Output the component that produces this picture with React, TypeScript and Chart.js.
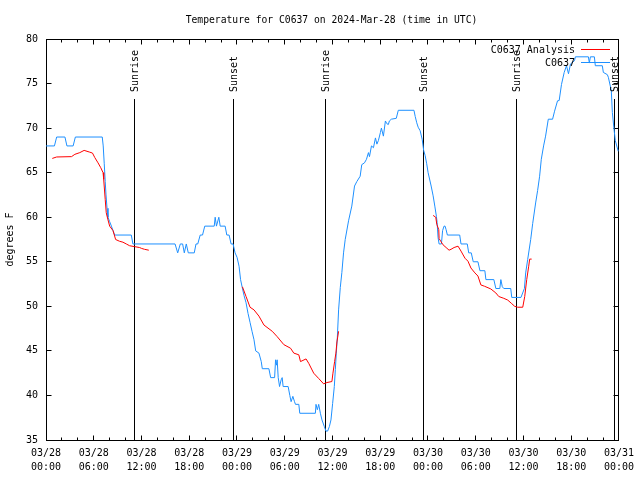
import React, { useEffect, useRef } from "react";
import { Chart, registerables } from "chart.js";

Chart.register(...registerables);

// ---- data (hours since 03/28 00:00 UTC, degrees F) ----
const obsHours = [
  0.0, 1.06, 1.34, 2.38, 2.63, 3.41, 3.69, 7.07, 7.19, 7.32, 7.44, 7.54, 7.67, 7.79, 8.0, 8.22, 8.42, 8.63,
  10.72, 10.92, 16.22, 16.55, 16.88, 17.17, 17.38, 17.63, 17.88, 18.63, 18.85, 19.07, 19.38, 19.67, 19.95,
  21.14, 21.26, 21.42, 21.72, 21.89, 22.51, 22.72, 23.01, 23.26, 23.51, 23.76, 24.01, 24.26, 24.45, 24.64,
  24.89, 25.14, 25.39, 25.64, 25.89, 26.14, 26.35, 26.76, 27.05, 27.18, 28.01, 28.23, 28.73, 28.85, 28.98,
  29.05, 29.18, 29.35, 29.55, 29.68, 29.8, 30.43, 30.64, 30.8, 31.02, 31.23, 31.35, 31.77, 31.89, 33.85,
  33.93, 34.1, 34.27, 34.48, 34.68, 34.98, 35.18, 35.39, 35.61, 35.81, 36.02, 36.23, 36.36, 36.48, 36.61,
  36.77, 36.98, 37.18, 37.39, 37.6, 38.02, 38.43, 38.77, 39.06, 39.48, 39.68, 40.02, 40.27, 40.52, 40.65,
  40.9, 41.15, 41.4, 41.58, 41.77, 42.02, 42.15, 42.4, 42.65, 42.83, 43.02, 43.15, 43.4, 44.02, 44.27,
  46.24, 46.4, 46.59, 46.77, 47.02, 47.27, 47.46, 47.65, 47.84, 48.02, 48.4, 48.65, 48.86, 49.06, 49.15,
  49.27, 49.4, 49.69, 49.84, 50.02, 50.15, 50.28, 50.44, 51.99, 52.15, 52.94, 53.12, 53.44, 53.69, 54.28,
  54.53, 55.15, 55.28, 56.28, 56.53, 57.03, 57.16, 57.34, 57.53, 58.4, 58.53, 59.69, 59.9, 60.12, 60.28,
  60.53, 60.91, 61.16, 61.53, 61.78, 62.03, 62.24, 62.53, 62.78, 63.12, 63.66, 63.91, 64.28, 64.49, 64.78,
  65.12, 65.41, 65.66, 65.91, 66.41, 66.53, 68.16, 68.28, 68.41, 68.91, 69.03, 69.91, 70.04, 70.54, 70.67,
  71.04, 71.17, 71.38, 71.54, 71.91,
];
const obsTemps = [
  68, 68, 69, 69, 68, 68, 69, 69, 68, 66, 64, 62.5, 61, 60, 59.5, 59, 58.5, 58,
  58, 57, 57, 56, 57, 57, 56, 57, 56, 56, 57, 57, 58, 58, 59,
  59, 60, 59, 60, 59, 59, 58, 58, 57, 57, 56, 55.5, 54.5, 53, 52.2,
  51.2, 50.4, 49.2, 48.2, 47.2, 46.25, 45, 44.75, 43.8, 43, 43, 42, 42, 44, 43.4,
  44, 42, 41, 41.75, 42, 41, 41, 40, 39.3, 39.9, 39.3, 39, 39, 38, 38,
  39, 38.4, 39, 38, 37.25, 36.5, 36, 36, 36.5, 37.25, 39.1, 41, 42.9, 44.75, 46.5,
  49.6, 52.1, 53.8, 56, 57.5, 59.6, 61.25, 63.5, 64, 64.6, 65.9, 66.1, 66.5, 67.25, 66.8,
  68, 67.8, 68.9, 68.2, 68.6, 69.5, 70, 69.1, 70.8, 70.5, 70.4, 70.8, 71, 71.1, 72,
  72, 71.3, 70.6, 70.1, 69.7, 68.75, 67.5, 66.9, 66, 65, 63.5, 62.4, 61.25, 60.1, 59.4,
  57.7, 57, 57, 58.5, 59, 59, 58.6, 58, 58, 57, 57, 56, 56, 55, 55,
  54, 54, 53, 53, 52, 52, 53, 52.2, 52, 52, 51, 51, 51.5, 52, 53.75,
  55.25, 57.5, 59.3, 61.6, 63, 64.6, 66.5, 68, 69.1, 71, 71, 71.9, 73.06, 73.1, 74.9,
  76.25, 77, 76.1, 77.2, 77.56, 78, 78, 77.3, 78, 78, 77, 77, 76.25, 76, 75.7,
  74.2, 71.75, 69.9, 68.6, 67.4,
];

const anaHours1 = [0.79, 1.34, 3.21, 3.63, 4.25, 4.79, 5.5, 5.84, 6.13, 6.54, 6.88, 7.17, 7.25, 7.44, 7.57, 7.79, 8.0, 8.42, 8.75, 9.25, 9.67, 10.09, 10.51, 11.13, 11.76, 12.01, 12.38, 12.92];
const anaTemps1 = [66.6, 66.76, 66.8, 67.06, 67.25, 67.5, 67.3, 67.2, 66.7, 66.1, 65.56, 65.0, 64.25, 62, 60.5, 59.7, 59, 58.5, 57.5, 57.3, 57.2, 57, 56.8, 56.7, 56.6, 56.5, 56.4, 56.3];
const anaHours2 = [24.68, 25.14, 25.64, 26.14, 26.76, 27.39, 28.43, 29.05, 29.89, 30.73, 31.14, 31.77, 31.98, 32.68, 33.02, 33.64, 34.27, 34.89, 35.31, 35.93, 36.06, 36.27, 36.43, 36.56, 36.77];
const anaTemps2 = [52.2, 51.1, 49.9, 49.6, 48.9, 47.9, 47.2, 46.6, 45.7, 45.3, 44.75, 44.56, 43.8, 44.1, 43.6, 42.5, 41.9, 41.3, 41.45, 41.56, 42.5, 43.8, 44.75, 46, 47.2];
const anaHours3 = [48.65, 48.98, 49.11, 49.36, 49.4, 49.61, 49.9, 50.28, 50.65, 50.9, 51.28, 51.78, 52.15, 52.65, 53.03, 53.4, 53.9, 54.28, 54.65, 55.12, 55.9, 56.53, 56.9, 57.53, 58.03, 58.53, 58.9, 59.28, 59.91, 60.16, 60.41, 60.66, 60.78, 61.03];
const anaTemps3 = [60.2, 60, 59.2, 58.6, 57.6, 57.3, 56.9, 56.6, 56.3, 56.4, 56.6, 56.75, 56.2, 55.4, 55.06, 54.3, 53.75, 53.4, 52.4, 52.25, 51.95, 51.5, 51.1, 50.9, 50.7, 50.3, 50, 49.9, 49.9, 51.1, 53, 54.5, 55.3, 55.3];

const sunriseHours = [11.15, 35.13, 59.1];
const sunsetHours = [23.5, 47.45, 71.45];

const xDateLabels = ["03/28", "03/28", "03/28", "03/28", "03/29", "03/29", "03/29", "03/29", "03/30", "03/30", "03/30", "03/30", "03/31"];
const xTimeLabels = ["00:00", "06:00", "12:00", "18:00", "00:00", "06:00", "12:00", "18:00", "00:00", "06:00", "12:00", "18:00", "00:00"];

const titleText = "Temperature for C0637 on 2024-Mar-28 (time in UTC)";
const yAxisTitle = "degrees F";
const obsLabel = "C0637";
const anaLabel = "C0637 Analysis";
const sunriseLabel = "Sunrise";
const sunsetLabel = "Sunset";

const OBS_COLOR = "#1e90ff";
const ANA_COLOR = "#ff0000";
const FAMILY = '"DejaVu Sans Mono", "Liberation Mono", monospace';
const FONT = `10px ${FAMILY}`;
const TITLE_FONT = `9.7px ${FAMILY}`;

function pts(hs: number[], ts: number[]) {
  return hs.map((h, i) => ({ x: h, y: ts[i] }));
}

const framePlugin = {
  id: "gnuframe",
  beforeDatasetsDraw(chart: any) {
    const { ctx, chartArea: a, scales } = chart;
    const xs = scales.x;
    const ys = scales.y;
    const L = Math.floor(a.left) + 0.5;
    const R = Math.floor(a.right) + 0.5;
    const T = Math.floor(a.top) + 0.5;
    const B = Math.floor(a.bottom) + 0.5;
    ctx.save();
    ctx.strokeStyle = "#000";
    ctx.lineWidth = 1;
    ctx.beginPath();
    for (let h = 0; h <= 72; h += 2) {
      const px = Math.floor(xs.getPixelForValue(h)) + 0.5;
      const len = h % 6 === 0 ? 5 : 3;
      ctx.moveTo(px, B);
      ctx.lineTo(px, B - len);
      ctx.moveTo(px, T);
      ctx.lineTo(px, T + len);
    }
    for (let v = 35; v <= 80; v += 5) {
      const py = Math.floor(ys.getPixelForValue(v)) + 0.5;
      ctx.moveTo(L, py);
      ctx.lineTo(L + 5, py);
      ctx.moveTo(R, py);
      ctx.lineTo(R - 5, py);
    }
    ctx.stroke();
    ctx.strokeRect(L, T, R - L, B - T);
    ctx.beginPath();
    const events = [...sunriseHours, ...sunsetHours];
    events.forEach((h) => {
      const px = Math.floor(xs.getPixelForValue(h)) + 0.5;
      ctx.moveTo(px, 99);
      ctx.lineTo(px, B);
    });
    ctx.stroke();
    ctx.restore();
  },
  afterDraw(chart: any) {
    const { ctx, scales } = chart;
    const xs = scales.x;
    ctx.save();
    ctx.fillStyle = "#000";
    ctx.font = TITLE_FONT;
    ctx.textAlign = "center";
    ctx.textBaseline = "middle";
    ctx.fillText(titleText, 331.5, 20);
    ctx.font = FONT;
    const drawEvent = (h: number, label: string) => {
      const px = Math.floor(xs.getPixelForValue(h)) + 1.5;
      ctx.save();
      ctx.translate(px, 92);
      ctx.rotate(-Math.PI / 2);
      ctx.textAlign = "left";
      ctx.textBaseline = "middle";
      ctx.fillText(label, 0, 0);
      ctx.restore();
    };
    sunriseHours.forEach((h) => drawEvent(h, sunriseLabel));
    sunsetHours.forEach((h) => drawEvent(h, sunsetLabel));
    ctx.textAlign = "right";
    ctx.textBaseline = "middle";
    ctx.fillText(anaLabel, 575, 50);
    ctx.fillText(obsLabel, 575, 63);
    ctx.lineWidth = 1;
    ctx.strokeStyle = ANA_COLOR;
    ctx.beginPath();
    ctx.moveTo(581, 49.5);
    ctx.lineTo(610, 49.5);
    ctx.stroke();
    ctx.strokeStyle = OBS_COLOR;
    ctx.beginPath();
    ctx.moveTo(581, 62.5);
    ctx.lineTo(610, 62.5);
    ctx.stroke();
    ctx.restore();
  },
};

export default function App() {
  const ref = useRef<HTMLCanvasElement | null>(null);
  useEffect(() => {
    if (!ref.current) return;
    const anaData = [
      ...pts(anaHours1, anaTemps1),
      { x: 13, y: null as any },
      ...pts(anaHours2, anaTemps2),
      { x: 37, y: null as any },
      ...pts(anaHours3, anaTemps3),
    ];
    const chart = new Chart(ref.current, {
      type: "line",
      data: {
        datasets: [
          {
            label: anaLabel,
            data: anaData,
            borderColor: ANA_COLOR,
            borderWidth: 1,
            pointRadius: 0,
            tension: 0,
            spanGaps: false,
          },
          {
            label: obsLabel,
            data: pts(obsHours, obsTemps),
            borderColor: OBS_COLOR,
            borderWidth: 1,
            pointRadius: 0,
            tension: 0,
          },
        ],
      },
      options: {
        responsive: false,
        animation: false,
        devicePixelRatio: 1,
        layout: { padding: { left: 0, right: 19, top: 39, bottom: 0 } },
        plugins: {
          legend: { display: false },
          tooltip: { enabled: false },
          title: { display: false },
        },
        scales: {
          x: {
            type: "linear",
            min: 0,
            max: 72,
            grid: { display: false, drawTicks: false },
            border: { display: false },
            ticks: {
              stepSize: 6,
              autoSkip: false,
              maxRotation: 0,
              maxTicksLimit: 20,
              padding: 6,
              color: "#000",
              font: { family: FAMILY, size: 10, lineHeight: 1.44 },
              callback: (v: any) => {
                const i = Math.round(Number(v) / 6);
                return [xDateLabels[i], xTimeLabels[i]];
              },
            },
            afterFit: (s: any) => {
              s.height = 40;
            },
          },
          y: {
            type: "linear",
            min: 35,
            max: 80,
            grid: { display: false, drawTicks: false },
            border: { display: false },
            ticks: {
              stepSize: 5,
              padding: 8,
              color: "#000",
              font: { family: FAMILY, size: 10 },
            },
            title: {
              display: true,
              text: yAxisTitle,
              color: "#000",
              font: { family: FAMILY, size: 10 },
              padding: { top: 4, bottom: 0 },
            },
            afterFit: (s: any) => {
              s.width = 46;
            },
          },
        },
      },
      plugins: [framePlugin],
    });
    return () => chart.destroy();
  }, []);
  return (
    <div style={{ position: "absolute", left: 0, top: 0, width: 640, height: 480, background: "#fff" }}>
      <canvas ref={ref} width={640} height={480} style={{ display: "block" }} />
    </div>
  );
}
